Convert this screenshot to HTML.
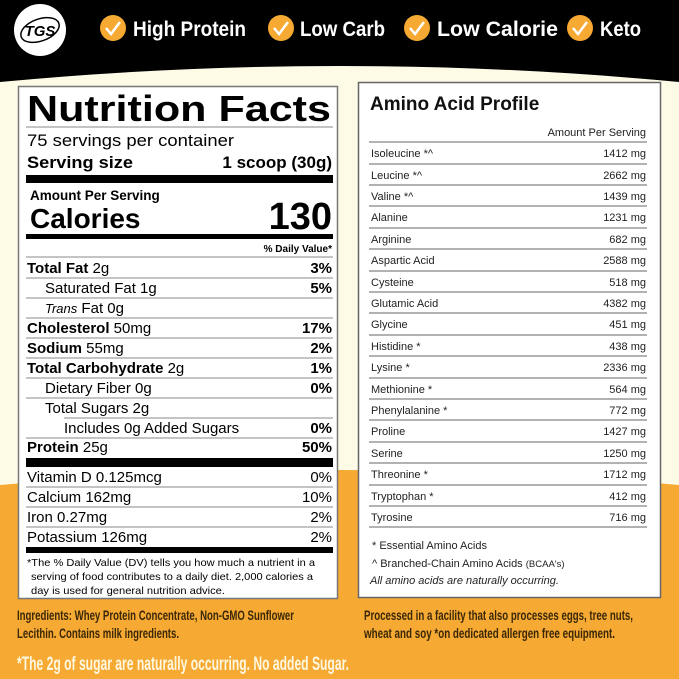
<!DOCTYPE html>
<html><head><meta charset="utf-8"><style>
html,body{margin:0;padding:0;width:679px;height:679px;overflow:hidden;background:#fdfae6}
svg{display:block}
text{font-family:"Liberation Sans",Arial,sans-serif}
.n{font-weight:bold}
</style></head><body>
<svg width="679" height="679" viewBox="0 0 679 679" xmlns="http://www.w3.org/2000/svg">
<rect width="679" height="679" fill="#fdfae6"/>
<path d="M0 485 Q340 455 679 485 L679 679 L0 679 Z" fill="#f6a933"/>
<path d="M0 0 H679 V82 Q340 50 0 82 Z" fill="#000"/>
<circle cx="40" cy="30" r="26" fill="#fff"/>
<ellipse cx="40" cy="30" rx="20" ry="11" fill="none" stroke="#000" stroke-width="1.5" transform="rotate(-20 40 30)"/>
<text x="40" y="36" font-size="15" font-weight="bold" font-style="italic" text-anchor="middle" fill="#000">TGS</text>
<g fill="#f6a933">
<circle cx="113" cy="28" r="13"/><circle cx="281" cy="28" r="13"/><circle cx="417" cy="28" r="13"/><circle cx="580" cy="28" r="13"/></g>
<g fill="none" stroke="#fff" stroke-width="2.5">
<path d="M106 28 l5 6 l9 -12"/><path d="M274 28 l5 6 l9 -12"/><path d="M410 28 l5 6 l9 -12"/><path d="M573 28 l5 6 l9 -12"/></g>
<g fill="#fff" font-size="21" font-weight="bold">
<text x="133" y="36" textLength="113" lengthAdjust="spacingAndGlyphs">High Protein</text>
<text x="300" y="36" textLength="85" lengthAdjust="spacingAndGlyphs">Low Carb</text>
<text x="437" y="36" textLength="121" lengthAdjust="spacingAndGlyphs">Low Calorie</text>
<text x="600" y="36" textLength="41" lengthAdjust="spacingAndGlyphs">Keto</text>
</g>
<rect x="18.5" y="86.5" width="319" height="512" fill="#fff" stroke="#777" stroke-width="1.5"/>
<text x="27" y="121" font-size="36" font-weight="bold" textLength="304" lengthAdjust="spacingAndGlyphs">Nutrition Facts</text>
<line x1="26" y1="127" x2="333" y2="127" stroke="#888" stroke-width="1"/>
<text x="27" y="146" font-size="17" textLength="207" lengthAdjust="spacingAndGlyphs">75 servings per container</text>
<text x="27" y="168" font-size="17" font-weight="bold" textLength="106" lengthAdjust="spacingAndGlyphs">Serving size</text>
<text x="332" y="168" font-size="17" font-weight="bold" text-anchor="end">1 scoop (30g)</text>
<rect x="26" y="175" width="307" height="8" fill="#000"/>
<text x="30" y="200" font-size="13.5" font-weight="bold">Amount Per Serving</text>
<text x="30" y="228" font-size="28" font-weight="bold">Calories</text>
<text x="332" y="229" font-size="38" font-weight="bold" text-anchor="end">130</text>
<rect x="26" y="234" width="307" height="5" fill="#000"/>
<text x="332" y="252" font-size="10" font-weight="bold" text-anchor="end">% Daily Value*</text>
<g stroke="#888" stroke-width="1">
<line x1="26" y1="257" x2="333" y2="257"/>
<line x1="26" y1="278" x2="333" y2="278"/><line x1="26" y1="298" x2="333" y2="298"/><line x1="26" y1="318" x2="333" y2="318"/><line x1="26" y1="338" x2="333" y2="338"/><line x1="26" y1="358" x2="333" y2="358"/><line x1="26" y1="378" x2="333" y2="378"/><line x1="26" y1="398" x2="333" y2="398"/><line x1="64" y1="418" x2="333" y2="418"/><line x1="26" y1="438" x2="333" y2="438"/>
<line x1="26" y1="487" x2="333" y2="487"/><line x1="26" y1="507" x2="333" y2="507"/><line x1="26" y1="527" x2="333" y2="527"/>
</g>
<g font-size="15">
<text x="27" y="273"><tspan font-weight="bold">Total Fat</tspan> 2g</text><text x="332" y="273" text-anchor="end" font-weight="bold">3%</text>
<text x="45" y="293">Saturated Fat 1g</text><text x="332" y="293" text-anchor="end" font-weight="bold">5%</text>
<text x="45" y="313"><tspan font-style="italic" font-size="13">Trans</tspan> Fat 0g</text>
<text x="27" y="333"><tspan font-weight="bold">Cholesterol</tspan> 50mg</text><text x="332" y="333" text-anchor="end" font-weight="bold">17%</text>
<text x="27" y="353"><tspan font-weight="bold">Sodium</tspan> 55mg</text><text x="332" y="353" text-anchor="end" font-weight="bold">2%</text>
<text x="27" y="373"><tspan font-weight="bold">Total Carbohydrate</tspan> 2g</text><text x="332" y="373" text-anchor="end" font-weight="bold">1%</text>
<text x="45" y="393">Dietary Fiber 0g</text><text x="332" y="393" text-anchor="end" font-weight="bold">0%</text>
<text x="45" y="413">Total Sugars 2g</text>
<text x="64" y="433">Includes 0g Added Sugars</text><text x="332" y="433" text-anchor="end" font-weight="bold">0%</text>
<text x="27" y="452"><tspan font-weight="bold">Protein</tspan> 25g</text><text x="332" y="452" text-anchor="end" font-weight="bold">50%</text>
</g>
<rect x="26" y="458" width="307" height="9" fill="#000"/>
<g font-size="15">
<text x="27" y="482">Vitamin D 0.125mcg</text><text x="332" y="482" text-anchor="end">0%</text>
<text x="27" y="502">Calcium 162mg</text><text x="332" y="502" text-anchor="end">10%</text>
<text x="27" y="522">Iron 0.27mg</text><text x="332" y="522" text-anchor="end">2%</text>
<text x="27" y="542">Potassium 126mg</text><text x="332" y="542" text-anchor="end">2%</text>
</g>
<rect x="26" y="547" width="307" height="6" fill="#000"/>
<g font-size="10.5">
<text x="27" y="566" textLength="288" lengthAdjust="spacingAndGlyphs">*The % Daily Value (DV) tells you how much a nutrient in a</text>
<text x="31" y="580" textLength="282" lengthAdjust="spacingAndGlyphs">serving of food contributes to a daily diet. 2,000 calories a</text>
<text x="31" y="594" textLength="194" lengthAdjust="spacingAndGlyphs">day is used for general nutrition advice.</text>
</g>
<rect x="358.5" y="82.5" width="302" height="515" fill="#fff" stroke="#666" stroke-width="1.5"/>
<text x="370" y="110" font-size="19" font-weight="bold" fill="#111">Amino Acid Profile</text>
<text x="646" y="136" font-size="11" text-anchor="end" fill="#222">Amount Per Serving</text>
<g stroke="#666" stroke-width="1">
<line x1="369" y1="142" x2="647" y2="142"/>
<line x1="369" y1="164" x2="647" y2="164"/><line x1="369" y1="185" x2="647" y2="185"/><line x1="369" y1="206" x2="647" y2="206"/><line x1="369" y1="228" x2="647" y2="228"/><line x1="369" y1="249" x2="647" y2="249"/><line x1="369" y1="271" x2="647" y2="271"/><line x1="369" y1="292" x2="647" y2="292"/><line x1="369" y1="313" x2="647" y2="313"/><line x1="369" y1="335" x2="647" y2="335"/><line x1="369" y1="356" x2="647" y2="356"/><line x1="369" y1="378" x2="647" y2="378"/><line x1="369" y1="399" x2="647" y2="399"/><line x1="369" y1="420" x2="647" y2="420"/><line x1="369" y1="442" x2="647" y2="442"/><line x1="369" y1="463" x2="647" y2="463"/><line x1="369" y1="485" x2="647" y2="485"/><line x1="369" y1="506" x2="647" y2="506"/><line x1="369" y1="527" x2="647" y2="527"/>
</g>
<g font-size="11" fill="#222">
<text x="371" y="157">Isoleucine *^</text><text x="646" y="157" text-anchor="end">1412 mg</text>
<text x="371" y="179">Leucine *^</text><text x="646" y="179" text-anchor="end">2662 mg</text>
<text x="371" y="200">Valine *^</text><text x="646" y="200" text-anchor="end">1439 mg</text>
<text x="371" y="221">Alanine</text><text x="646" y="221" text-anchor="end">1231 mg</text>
<text x="371" y="243">Arginine</text><text x="646" y="243" text-anchor="end">682 mg</text>
<text x="371" y="264">Aspartic Acid</text><text x="646" y="264" text-anchor="end">2588 mg</text>
<text x="371" y="286">Cysteine</text><text x="646" y="286" text-anchor="end">518 mg</text>
<text x="371" y="307">Glutamic Acid</text><text x="646" y="307" text-anchor="end">4382 mg</text>
<text x="371" y="328">Glycine</text><text x="646" y="328" text-anchor="end">451 mg</text>
<text x="371" y="350">Histidine *</text><text x="646" y="350" text-anchor="end">438 mg</text>
<text x="371" y="371">Lysine *</text><text x="646" y="371" text-anchor="end">2336 mg</text>
<text x="371" y="393">Methionine *</text><text x="646" y="393" text-anchor="end">564 mg</text>
<text x="371" y="414">Phenylalanine *</text><text x="646" y="414" text-anchor="end">772 mg</text>
<text x="371" y="435">Proline</text><text x="646" y="435" text-anchor="end">1427 mg</text>
<text x="371" y="457">Serine</text><text x="646" y="457" text-anchor="end">1250 mg</text>
<text x="371" y="478">Threonine *</text><text x="646" y="478" text-anchor="end">1712 mg</text>
<text x="371" y="500">Tryptophan *</text><text x="646" y="500" text-anchor="end">412 mg</text>
<text x="371" y="521">Tyrosine</text><text x="646" y="521" text-anchor="end">716 mg</text>
<text x="372" y="549">* Essential Amino Acids</text>
<text x="372" y="567">^ Branched-Chain Amino Acids <tspan font-size="9.5">(BCAA's)</tspan></text>
<text x="370" y="584" font-style="italic">All amino acids are naturally occurring.</text>
</g>
<g fill="#3a2808" font-size="14" font-weight="bold">
<text x="17" y="620" textLength="277" lengthAdjust="spacingAndGlyphs">Ingredients: Whey Protein Concentrate, Non-GMO Sunflower</text>
<text x="17" y="638" textLength="162" lengthAdjust="spacingAndGlyphs">Lecithin. Contains milk ingredients.</text>
<text x="364" y="620" textLength="269" lengthAdjust="spacingAndGlyphs">Processed in a facility that also processes eggs, tree nuts,</text>
<text x="364" y="638" textLength="251" lengthAdjust="spacingAndGlyphs">wheat and soy *on dedicated allergen free equipment.</text>
</g>
<text x="17" y="670" font-size="19" font-weight="bold" fill="#fff8e0" textLength="332" lengthAdjust="spacingAndGlyphs">*The 2g of sugar are naturally occurring. No added Sugar.</text>
</svg>
</body></html>
